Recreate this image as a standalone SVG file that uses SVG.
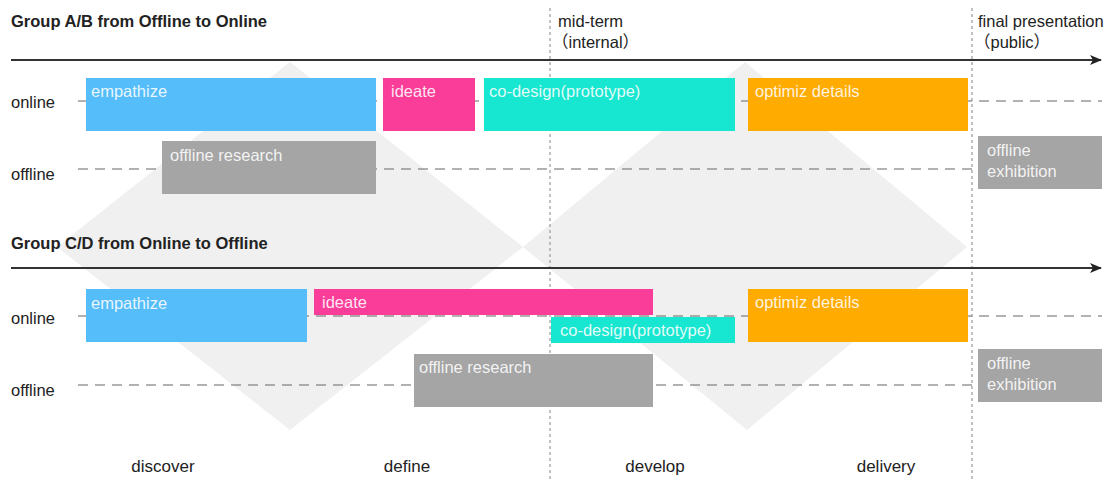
<svg xmlns="http://www.w3.org/2000/svg" width="1110" height="479" viewBox="0 0 1110 479">
<defs>
<style>
.title{font-family:"Liberation Sans",Arial,sans-serif;font-size:16.5px;font-weight:bold;fill:#222}
.lbl{font-family:"Liberation Sans","Noto Sans CJK SC",sans-serif;font-size:16.5px;fill:#222}
.btm{font-family:"Liberation Sans",Arial,sans-serif;font-size:17px;fill:#222}
.btxt{font-family:"Liberation Sans",Arial,sans-serif;font-size:16.5px;fill:#fff;fill-opacity:0.88}
.dash{stroke:#666;stroke-width:1.2;stroke-dasharray:10,7;fill:none}
.vdot{stroke:#999;stroke-width:1.2;stroke-dasharray:3,3;fill:none}
.axis{stroke:#333;stroke-width:2;fill:none}
.dia{fill:#f0f0f0}
.blue{fill:#55bdf9}
.pink{fill:#fb3d9a}
.teal{fill:#17e6d0}
.orange{fill:#ffab00}
.gray{fill:#a5a5a5}
</style>
<marker id="arr" viewBox="0 0 12 10" refX="11" refY="5" markerWidth="7" markerHeight="5" markerUnits="strokeWidth" orient="auto">
<path d="M0,0 L12,5 L0,10 L3,5 Z" fill="#222"/>
</marker>
</defs>
<rect width="1110" height="479" fill="#fff"/>
<g id="background">
<polygon class="dia" points="290,62 523,247 290,430 57,247"/>
<polygon class="dia" points="745,62 967,247 747,430 523,247"/>
</g>
<g id="connectors">
<line class="vdot" x1="550" y1="8" x2="550" y2="479"/>
<line class="vdot" x1="972" y1="8" x2="972" y2="479"/>
<line class="axis" x1="11" y1="60" x2="1101" y2="60" marker-end="url(#arr)"/>
<line class="axis" x1="11" y1="268" x2="1101" y2="268" marker-end="url(#arr)"/>
<line class="dash" x1="78" y1="101" x2="1102" y2="101"/>
<line class="dash" x1="78" y1="169" x2="972" y2="169"/>
<line class="dash" x1="78" y1="316" x2="1102" y2="316"/>
<line class="dash" x1="78" y1="385" x2="972" y2="385"/>
</g>
<g id="labels">
<text class="title" x="11" y="27">Group A/B from Offline to Online</text>
<text class="title" x="11" y="249">Group C/D from Online to Offline</text>
<text class="lbl" x="558" y="27">mid-term</text>
<text class="lbl" x="552" y="48">（internal）</text>
<text class="lbl" x="978" y="27">final presentation</text>
<text class="lbl" x="974" y="48">（public）</text>
<text class="lbl" x="11" y="108">online</text>
<text class="lbl" x="11" y="180">offline</text>
<text class="lbl" x="11" y="324">online</text>
<text class="lbl" x="11" y="396">offline</text>
<text class="btm" x="163" y="472" text-anchor="middle">discover</text>
<text class="btm" x="407" y="472" text-anchor="middle">define</text>
<text class="btm" x="655" y="472" text-anchor="middle">develop</text>
<text class="btm" x="886" y="472" text-anchor="middle">delivery</text>
</g>
<g id="ab-empathize"><rect class="blue" x="86" y="78" width="290" height="53"/><text class="btxt" x="91" y="97">empathize</text></g>
<g id="ab-ideate"><rect class="pink" x="383" y="78" width="92" height="53"/><text class="btxt" x="391" y="97">ideate</text></g>
<g id="ab-codesign"><rect class="teal" x="484" y="78" width="251" height="53"/><text class="btxt" x="489" y="97">co-design(prototype)</text></g>
<g id="ab-optimiz"><rect class="orange" x="748" y="78" width="220" height="53"/><text class="btxt" x="755" y="97">optimiz details</text></g>
<g id="ab-research"><rect class="gray" x="162" y="141" width="214" height="53"/><text class="btxt" x="170" y="161">offline research</text></g>
<g id="ab-exhibition"><rect class="gray" x="978" y="136" width="124" height="53"/><text class="btxt" x="987" y="156">offline</text><text class="btxt" x="987" y="177">exhibition</text></g>
<g id="cd-empathize"><rect class="blue" x="86" y="289" width="221" height="53"/><text class="btxt" x="91" y="309">empathize</text></g>
<g id="cd-ideate"><rect class="pink" x="314" y="289" width="339" height="26"/><text class="btxt" x="322" y="308">ideate</text></g>
<g id="cd-codesign"><rect class="teal" x="551" y="317" width="184" height="26"/><text class="btxt" x="560" y="336">co-design(prototype)</text></g>
<g id="cd-optimiz"><rect class="orange" x="748" y="289" width="220" height="53"/><text class="btxt" x="755" y="308">optimiz details</text></g>
<g id="cd-research"><rect class="gray" x="414" y="354" width="239" height="53"/><text class="btxt" x="419" y="373">offline research</text></g>
<g id="cd-exhibition"><rect class="gray" x="978" y="349" width="124" height="53"/><text class="btxt" x="987" y="369">offline</text><text class="btxt" x="987" y="390">exhibition</text></g>
</svg>
